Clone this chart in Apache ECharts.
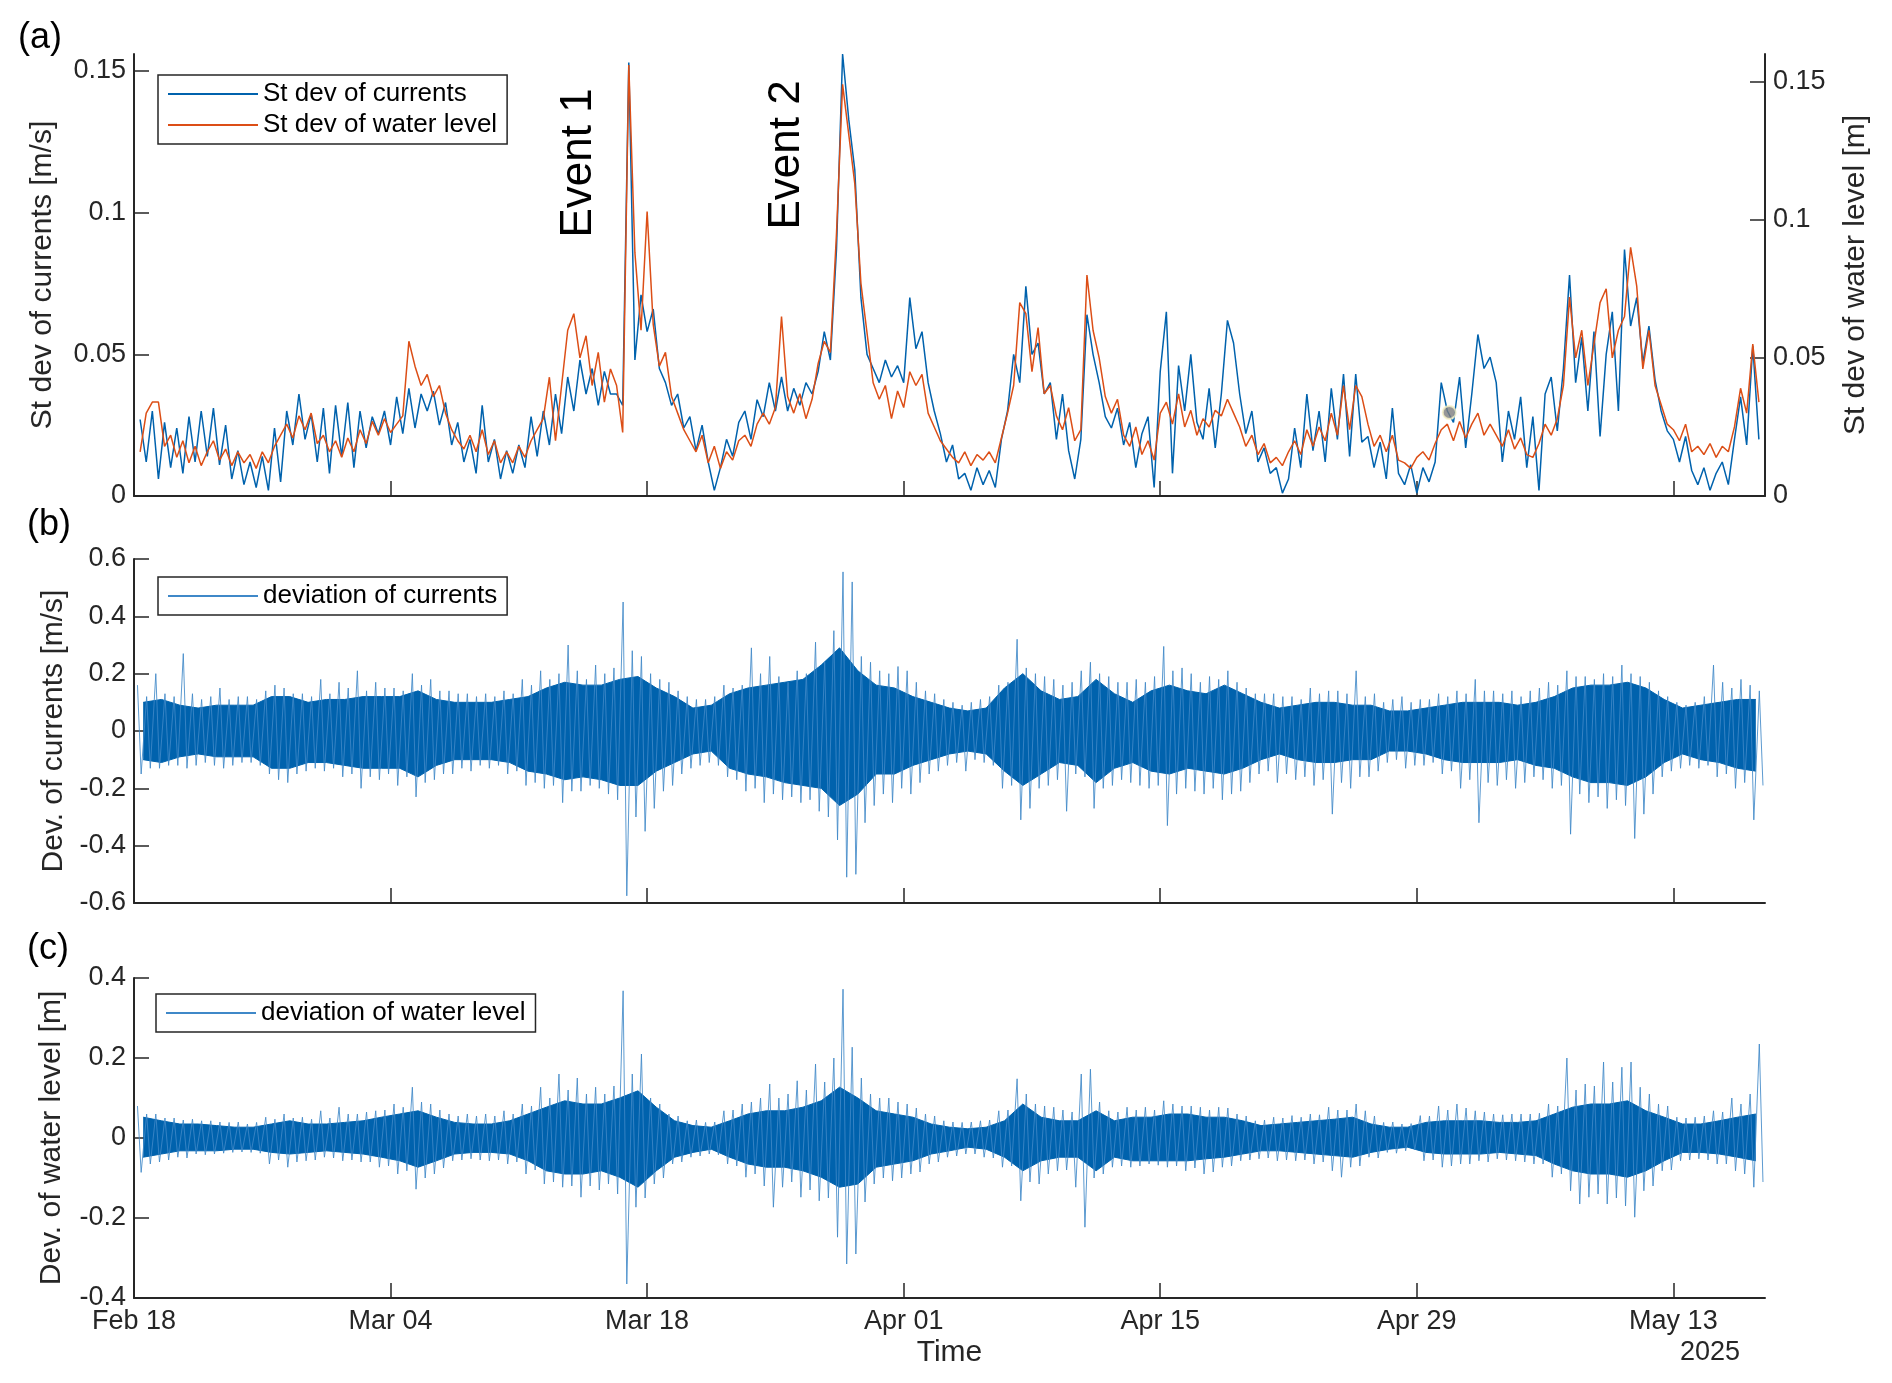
<!DOCTYPE html>
<html>
<head>
<meta charset="utf-8">
<title>Currents and water level deviations</title>
<script src="https://cdn.jsdelivr.net/npm/echarts@6/dist/echarts.min.js"></script>
<style>
  html, body { margin: 0; padding: 0; background: #fff; }
  #chart { width: 1892px; height: 1383px; }
</style>
</head>
<body>
<div id="chart"></div>
<script>
// x values are days after Feb 18 2025 00:00
var startDate = Date.UTC(2025, 1, 18);
var dateTicks = [0, 14, 28, 42, 56, 70, 84];

// (a) st dev, one value every 8 hours from Feb 18 08:00
var stdStep = 1 / 3;
var stdCurrents = [
  0.027,0.012,0.030, 0.006,0.026,0.010, 0.024,0.008,0.028,
  0.012,0.030,0.014, 0.031,0.011,0.025, 0.006,0.016,0.004,
  0.012,0.003,0.014, 0.002,0.024,0.005, 0.030,0.018,0.036,
  0.020,0.029,0.012, 0.031,0.008,0.032, 0.014,0.033,0.010,
  0.030,0.017,0.028, 0.022,0.030,0.018, 0.035,0.022,0.038,
  0.024,0.036,0.030, 0.037,0.025,0.033, 0.018,0.026,0.012,
  0.020,0.008,0.032, 0.012,0.020,0.006, 0.016,0.008,0.018,
  0.010,0.028,0.014, 0.030,0.018,0.036, 0.022,0.042,0.030,
  0.048,0.036,0.045, 0.032,0.044,0.036, 0.036,0.032,0.153,
  0.048,0.071,0.058, 0.066,0.045,0.040, 0.032,0.036,0.024,
  0.028,0.016,0.025, 0.012,0.002,0.010, 0.020,0.014,0.026,
  0.030,0.020,0.034, 0.028,0.040,0.030, 0.042,0.030,0.038,
  0.032,0.040,0.036, 0.044,0.058,0.048, 0.087,0.156,0.133,
  0.115,0.070,0.050, 0.045,0.040,0.048, 0.042,0.046,0.040,
  0.070,0.052,0.058, 0.040,0.030,0.022, 0.012,0.018,0.006,
  0.008,0.002,0.010, 0.004,0.009,0.003, 0.020,0.030,0.050,
  0.040,0.074,0.050, 0.054,0.036,0.040, 0.020,0.036,0.016,
  0.006,0.020,0.064, 0.050,0.040,0.028, 0.024,0.031,0.018,
  0.026,0.010,0.022, 0.028,0.003,0.044, 0.065,0.008,0.046,
  0.030,0.050,0.026, 0.020,0.038,0.017, 0.036,0.062,0.054,
  0.036,0.022,0.030, 0.012,0.017,0.008, 0.010,0.001,0.006,
  0.024,0.010,0.036, 0.016,0.030,0.012, 0.038,0.020,0.043,
  0.014,0.043,0.019, 0.021,0.010,0.019, 0.006,0.031,0.008,
  0.004,0.011,0.001, 0.010,0.005,0.012, 0.040,0.030,0.026,
  0.042,0.017,0.036, 0.057,0.045,0.049, 0.040,0.012,0.030,
  0.020,0.035,0.010, 0.028,0.002,0.036, 0.042,0.023,0.045,
  0.078,0.040,0.056, 0.030,0.058,0.021, 0.050,0.065,0.030,
  0.087,0.060,0.070, 0.047,0.060,0.041, 0.030,0.023,0.020,
  0.012,0.021,0.009, 0.004,0.010,0.002, 0.008,0.012,0.004,
  0.020,0.035,0.018, 0.053,0.020
];
var stdWater = [
  0.016,0.030,0.034, 0.034,0.018,0.022, 0.014,0.020,0.012,
  0.018,0.011,0.016, 0.020,0.013,0.017, 0.011,0.016,0.012,
  0.015,0.010,0.016, 0.012,0.018,0.022, 0.026,0.021,0.029,
  0.024,0.030,0.019, 0.022,0.016,0.020, 0.014,0.021,0.016,
  0.024,0.019,0.027, 0.022,0.028,0.023, 0.026,0.029,0.056,
  0.047,0.040,0.044, 0.036,0.040,0.030, 0.024,0.020,0.017,
  0.022,0.016,0.024, 0.015,0.020,0.012, 0.016,0.012,0.018,
  0.014,0.020,0.024, 0.028,0.043,0.020, 0.040,0.060,0.066,
  0.050,0.058,0.040, 0.052,0.034,0.046, 0.040,0.023,0.156,
  0.088,0.060,0.103, 0.062,0.047,0.052, 0.036,0.030,0.024,
  0.020,0.016,0.022, 0.012,0.018,0.010, 0.016,0.013,0.020,
  0.022,0.018,0.026, 0.030,0.026,0.032, 0.065,0.036,0.030,
  0.037,0.028,0.035, 0.048,0.056,0.052, 0.095,0.149,0.131,
  0.113,0.077,0.059, 0.041,0.035,0.040, 0.028,0.038,0.032,
  0.045,0.040,0.044, 0.030,0.025,0.020, 0.017,0.014,0.012,
  0.016,0.011,0.015, 0.013,0.016,0.012, 0.021,0.030,0.040,
  0.070,0.066,0.045, 0.061,0.037,0.040, 0.029,0.024,0.032,
  0.020,0.024,0.080, 0.060,0.050,0.036, 0.030,0.035,0.022,
  0.018,0.025,0.015, 0.020,0.013,0.030, 0.034,0.026,0.037,
  0.025,0.031,0.022, 0.028,0.025,0.031, 0.029,0.035,0.030,
  0.025,0.018,0.022, 0.015,0.019,0.012, 0.014,0.011,0.016,
  0.020,0.015,0.024, 0.018,0.025,0.020, 0.030,0.022,0.040,
  0.024,0.040,0.036, 0.026,0.018,0.022, 0.016,0.022,0.013,
  0.012,0.010,0.014, 0.016,0.013,0.019, 0.024,0.026,0.020,
  0.027,0.021,0.026, 0.030,0.022,0.026, 0.022,0.018,0.024,
  0.017,0.021,0.015, 0.014,0.019,0.026, 0.022,0.028,0.040,
  0.072,0.050,0.060, 0.040,0.055,0.070, 0.075,0.050,0.060,
  0.065,0.090,0.076, 0.046,0.060,0.040, 0.033,0.026,0.024,
  0.020,0.026,0.016, 0.018,0.015,0.019, 0.014,0.018,0.016,
  0.025,0.039,0.030, 0.055,0.034
];
var greyDot = [71.77, 0.0295];

// (b) deviation of currents: dense core band per day, outer spikes per half day
var curCoreHi = [
  0.10,0.11,0.09,0.08,0.09,0.09,0.09,0.12,0.12,0.10,
  0.11,0.11,0.12,0.12,0.12,0.14,0.11,0.10,0.10,0.10,
  0.11,0.12,0.15,0.17,0.16,0.16,0.18,0.19,0.15,0.12,
  0.08,0.09,0.13,0.15,0.16,0.17,0.18,0.23,0.29,0.21,
  0.16,0.15,0.12,0.10,0.08,0.07,0.08,0.15,0.20,0.14,
  0.11,0.12,0.18,0.13,0.10,0.14,0.16,0.14,0.13,0.16,
  0.13,0.10,0.08,0.09,0.10,0.10,0.09,0.09,0.07,0.07,
  0.08,0.09,0.10,0.10,0.10,0.09,0.10,0.12,0.15,0.16,
  0.16,0.17,0.15,0.11,0.08,0.09,0.10,0.11,0.11
];
var curCoreLo = [
  -0.10,-0.11,-0.09,-0.08,-0.09,-0.09,-0.09,-0.13,-0.13,-0.11,
  -0.11,-0.12,-0.13,-0.13,-0.13,-0.16,-0.12,-0.10,-0.10,-0.10,
  -0.11,-0.14,-0.15,-0.17,-0.16,-0.17,-0.19,-0.19,-0.14,-0.11,
  -0.08,-0.07,-0.13,-0.15,-0.16,-0.18,-0.19,-0.20,-0.26,-0.22,
  -0.15,-0.15,-0.12,-0.10,-0.08,-0.07,-0.08,-0.14,-0.19,-0.15,
  -0.11,-0.12,-0.18,-0.13,-0.11,-0.14,-0.15,-0.13,-0.14,-0.15,
  -0.13,-0.10,-0.08,-0.10,-0.11,-0.11,-0.10,-0.10,-0.07,-0.07,
  -0.08,-0.10,-0.11,-0.11,-0.11,-0.10,-0.12,-0.13,-0.16,-0.18,
  -0.18,-0.19,-0.16,-0.11,-0.08,-0.10,-0.11,-0.13,-0.14
];
var curPeakHi = [
  0.16,0.12, 0.20,0.13, 0.12,0.27, 0.13,0.11, 0.12,0.15,
  0.11,0.12, 0.12,0.11, 0.14,0.16, 0.15,0.13, 0.13,0.12,
  0.18,0.13, 0.17,0.15, 0.21,0.14, 0.17,0.15, 0.15,0.14,
  0.20,0.16, 0.18,0.14, 0.14,0.13, 0.13,0.12, 0.13,0.12,
  0.14,0.13, 0.18,0.16, 0.21,0.18, 0.20,0.30, 0.21,0.18,
  0.23,0.20, 0.22,0.45, 0.28,0.26, 0.20,0.18, 0.17,0.14,
  0.12,0.11, 0.11,0.12, 0.16,0.15, 0.16,0.29, 0.20,0.26,
  0.19,0.17, 0.21,0.20, 0.31,0.24, 0.35,0.555, 0.52,0.26,
  0.24,0.21, 0.20,0.225, 0.21,0.17, 0.14,0.13, 0.11,0.10,
  0.09,0.10, 0.11,0.12, 0.16,0.17, 0.32,0.22, 0.20,0.19,
  0.18,0.16, 0.17,0.21, 0.24,0.20, 0.19,0.17, 0.17,0.18,
  0.17,0.19, 0.295,0.21, 0.22,0.20, 0.17,0.19, 0.18,0.21,
  0.17,0.15, 0.13,0.13, 0.13,0.12, 0.12,0.11, 0.15,0.13,
  0.14,0.14, 0.13,0.21, 0.12,0.13, 0.10,0.11, 0.12,0.10,
  0.11,0.11, 0.13,0.12, 0.14,0.13, 0.18,0.14, 0.14,0.13,
  0.14,0.12, 0.14,0.15, 0.17,0.16, 0.21,0.19, 0.19,0.18,
  0.20,0.19, 0.23,0.20, 0.19,0.17, 0.14,0.12, 0.10,0.09,
  0.10,0.12, 0.23,0.17, 0.15,0.18, 0.16,0.14
];
var curPeakLo = [
  -0.15,-0.13, -0.13,-0.12, -0.12,-0.13, -0.12,-0.11, -0.12,-0.13,
  -0.12,-0.11, -0.11,-0.12, -0.15,-0.17, -0.18,-0.15, -0.14,-0.13,
  -0.14,-0.13, -0.16,-0.15, -0.20,-0.16, -0.17,-0.15, -0.19,-0.16,
  -0.23,-0.18, -0.17,-0.15, -0.15,-0.13, -0.14,-0.12, -0.13,-0.12,
  -0.15,-0.14, -0.19,-0.18, -0.20,-0.19, -0.25,-0.21, -0.21,-0.19,
  -0.20,-0.22, -0.24,-0.575, -0.30,-0.35, -0.27,-0.21, -0.19,-0.15,
  -0.13,-0.12, -0.11,-0.12, -0.16,-0.17, -0.21,-0.20, -0.25,-0.22,
  -0.24,-0.23, -0.25,-0.24, -0.28,-0.30, -0.38,-0.51, -0.50,-0.32,
  -0.26,-0.22, -0.25,-0.20, -0.22,-0.18, -0.15,-0.14, -0.12,-0.11,
  -0.14,-0.10, -0.11,-0.12, -0.20,-0.19, -0.31,-0.27, -0.20,-0.19,
  -0.17,-0.28, -0.15,-0.16, -0.27,-0.20, -0.19,-0.17, -0.18,-0.19,
  -0.20,-0.19, -0.33,-0.22, -0.20,-0.21, -0.22,-0.20, -0.24,-0.22,
  -0.21,-0.18, -0.15,-0.14, -0.18,-0.15, -0.17,-0.16, -0.19,-0.17,
  -0.29,-0.18, -0.20,-0.16, -0.16,-0.14, -0.11,-0.10, -0.13,-0.12,
  -0.12,-0.11, -0.15,-0.14, -0.20,-0.17, -0.32,-0.18, -0.19,-0.17,
  -0.20,-0.18, -0.16,-0.17, -0.20,-0.19, -0.36,-0.22, -0.25,-0.23,
  -0.27,-0.24, -0.26,-0.375, -0.29,-0.22, -0.16,-0.14, -0.13,-0.12,
  -0.13,-0.12, -0.16,-0.15, -0.20,-0.18, -0.31,-0.19
];

// (c) deviation of water level
var wlCoreHi = [
  0.052,0.043,0.035,0.035,0.031,0.027,0.027,0.035,0.043,0.035,
  0.035,0.039,0.043,0.052,0.060,0.068,0.052,0.039,0.035,0.035,
  0.043,0.060,0.077,0.093,0.085,0.085,0.100,0.118,0.077,0.043,
  0.031,0.027,0.043,0.060,0.068,0.068,0.077,0.093,0.127,0.100,
  0.068,0.060,0.052,0.035,0.027,0.023,0.027,0.043,0.085,0.052,
  0.043,0.043,0.068,0.043,0.052,0.052,0.060,0.060,0.052,0.052,
  0.043,0.031,0.035,0.039,0.043,0.047,0.052,0.035,0.027,0.027,
  0.039,0.043,0.043,0.043,0.039,0.039,0.043,0.060,0.077,0.085,
  0.085,0.093,0.068,0.052,0.035,0.035,0.043,0.052,0.060
];
var wlCoreLo = [
  -0.048,-0.040,-0.032,-0.032,-0.032,-0.028,-0.028,-0.036,-0.040,-0.036,
  -0.032,-0.036,-0.040,-0.048,-0.057,-0.073,-0.057,-0.040,-0.036,-0.036,
  -0.040,-0.057,-0.082,-0.090,-0.090,-0.082,-0.098,-0.123,-0.082,-0.048,
  -0.036,-0.028,-0.048,-0.065,-0.073,-0.073,-0.082,-0.098,-0.123,-0.115,
  -0.073,-0.065,-0.057,-0.040,-0.032,-0.023,-0.028,-0.048,-0.082,-0.057,
  -0.048,-0.048,-0.082,-0.048,-0.057,-0.057,-0.057,-0.057,-0.052,-0.048,
  -0.040,-0.032,-0.032,-0.036,-0.040,-0.044,-0.048,-0.036,-0.028,-0.023,
  -0.036,-0.040,-0.040,-0.040,-0.036,-0.040,-0.044,-0.065,-0.082,-0.090,
  -0.090,-0.098,-0.082,-0.057,-0.036,-0.036,-0.040,-0.048,-0.057
];
var wlPeakHi = [
  0.080,0.060, 0.060,0.050, 0.050,0.045, 0.047,0.043, 0.043,0.040,
  0.039,0.040, 0.035,0.039, 0.052,0.047, 0.060,0.050, 0.052,0.047,
  0.068,0.050, 0.077,0.060, 0.060,0.065, 0.068,0.070, 0.085,0.077,
  0.127,0.090, 0.085,0.070, 0.060,0.055, 0.060,0.055, 0.060,0.055,
  0.068,0.060, 0.085,0.080, 0.127,0.100, 0.160,0.120, 0.150,0.110,
  0.127,0.110, 0.130,0.368, 0.160,0.210, 0.100,0.085, 0.060,0.055,
  0.043,0.045, 0.039,0.040, 0.068,0.070, 0.085,0.090, 0.100,0.135,
  0.100,0.110, 0.143,0.120, 0.185,0.140, 0.200,0.372, 0.227,0.150,
  0.110,0.100, 0.100,0.090, 0.085,0.075, 0.060,0.055, 0.043,0.040,
  0.039,0.040, 0.043,0.045, 0.068,0.070, 0.148,0.110, 0.085,0.080,
  0.077,0.070, 0.065,0.160, 0.172,0.090, 0.068,0.065, 0.077,0.070,
  0.077,0.070, 0.093,0.085, 0.080,0.080, 0.077,0.070, 0.077,0.075,
  0.060,0.055, 0.043,0.045, 0.052,0.050, 0.056,0.052, 0.060,0.058,
  0.077,0.070, 0.070,0.085, 0.068,0.055, 0.039,0.040, 0.035,0.036,
  0.056,0.055, 0.080,0.070, 0.085,0.075, 0.068,0.065, 0.060,0.058,
  0.060,0.060, 0.060,0.062, 0.085,0.080, 0.200,0.120, 0.135,0.130,
  0.190,0.140, 0.177,0.190, 0.127,0.110, 0.085,0.080, 0.052,0.050,
  0.052,0.055, 0.068,0.065, 0.100,0.085, 0.110,0.235
];
var wlPeakLo = [
  -0.086,-0.065, -0.060,-0.055, -0.048,-0.050, -0.040,-0.042, -0.040,-0.038,
  -0.036,-0.035, -0.036,-0.038, -0.065,-0.055, -0.073,-0.060, -0.057,-0.055,
  -0.048,-0.050, -0.057,-0.055, -0.060,-0.060, -0.073,-0.070, -0.090,-0.082,
  -0.128,-0.100, -0.090,-0.075, -0.057,-0.055, -0.052,-0.055, -0.057,-0.055,
  -0.065,-0.060, -0.090,-0.080, -0.115,-0.110, -0.123,-0.120, -0.148,-0.120,
  -0.130,-0.115, -0.140,-0.365, -0.173,-0.150, -0.115,-0.100, -0.065,-0.060,
  -0.048,-0.045, -0.040,-0.042, -0.065,-0.070, -0.098,-0.090, -0.120,-0.173,
  -0.123,-0.110, -0.148,-0.130, -0.157,-0.150, -0.248,-0.315, -0.290,-0.160,
  -0.115,-0.100, -0.107,-0.100, -0.090,-0.085, -0.065,-0.060, -0.048,-0.045,
  -0.040,-0.040, -0.048,-0.050, -0.073,-0.070, -0.157,-0.110, -0.115,-0.090,
  -0.082,-0.080, -0.123,-0.223, -0.100,-0.090, -0.073,-0.070, -0.073,-0.070,
  -0.065,-0.068, -0.073,-0.070, -0.082,-0.075, -0.090,-0.085, -0.073,-0.070,
  -0.057,-0.055, -0.052,-0.050, -0.057,-0.055, -0.057,-0.055, -0.065,-0.060,
  -0.082,-0.098, -0.073,-0.070, -0.048,-0.050, -0.036,-0.038, -0.032,-0.030,
  -0.057,-0.055, -0.073,-0.070, -0.065,-0.065, -0.057,-0.060, -0.052,-0.055,
  -0.057,-0.060, -0.065,-0.065, -0.098,-0.090, -0.132,-0.165, -0.148,-0.140,
  -0.165,-0.150, -0.170,-0.198, -0.132,-0.120, -0.082,-0.080, -0.057,-0.055,
  -0.052,-0.055, -0.065,-0.065, -0.082,-0.090, -0.123,-0.110
];

var BLUE = '#0062ad', ORANGE = '#dc4e16', LIGHT = '#3f88c8', AX = '#262626';
var FONT = 'Liberation Sans, Arial, sans-serif';
var LINE_ICON = 'path://M0,0H100V10H0Z';

function stdSeries(vals) {
  return vals.map(function (v, i) { return [(i + 1) * stdStep, v]; });
}
function daySeries(vals) {
  return vals.map(function (v, i) { return [i + 0.5, v]; });
}
// up/down swing for each half day sample
function swing(hi, lo) {
  var out = [];
  for (var i = 0; i < hi.length; i++) {
    var t = i / 2 + 0.25;
    out.push([t - 0.06, hi[i]]);
    out.push([t + 0.14, lo[i]]);
  }
  return out;
}
function dateLabel(v) {
  var d = new Date(startDate + v * 86400000);
  var m = ['Jan','Feb','Mar','Apr','May','Jun','Jul','Aug','Sep','Oct','Nov','Dec'][d.getUTCMonth()];
  var day = d.getUTCDate();
  return m + ' ' + (day < 10 ? '0' + day : day);
}

var grids = [
  {left: 134, top: 54, width: 1631, height: 442},
  {left: 134, top: 559, width: 1631, height: 344},
  {left: 134, top: 978, width: 1631, height: 320}
];

function xAx(idx, showLabels) {
  return {
    type: 'value', gridIndex: idx, min: 0, max: 89, interval: 14,
    axisLine: {show: true, onZero: false, lineStyle: {color: AX, width: 2}},
    axisTick: {show: true, inside: true, length: 15, customValues: dateTicks, lineStyle: {color: AX, width: 1.5}},
    axisLabel: {show: showLabels, customValues: dateTicks, formatter: dateLabel, fontSize: 27, fontFamily: FONT, color: AX, margin: 10},
    splitLine: {show: false},
    name: showLabels ? 'Time' : '', nameLocation: 'middle', nameGap: 40,
    nameTextStyle: {fontSize: 30, fontFamily: FONT, color: AX}
  };
}
function yAx(idx, o) {
  return {
    type: 'value', gridIndex: idx, min: o.min, max: o.max,
    position: o.pos || 'left',
    axisLine: {show: true, onZero: false, lineStyle: {color: AX, width: 2}},
    axisTick: {show: true, inside: true, length: 15, customValues: o.ticks, lineStyle: {color: AX, width: 1.5}},
    axisLabel: {customValues: o.ticks, fontSize: 27, fontFamily: FONT, color: AX, margin: 8},
    splitLine: {show: false},
    name: o.name, nameLocation: 'middle', nameGap: o.gap, nameRotate: 90,
    nameTextStyle: {fontSize: 30, fontFamily: FONT, color: AX}
  };
}

var legendBase = {
  orient: 'vertical', selectedMode: false, icon: LINE_ICON, symbolKeepAspect: false,
  borderColor: AX, borderWidth: 1.5, backgroundColor: '#fff',
  padding: [6, 10, 6, 10], itemWidth: 90, itemHeight: 2, itemGap: 5,
  textStyle: {fontSize: 26, fontFamily: FONT, color: '#000'}
};

var chart = echarts.init(document.getElementById('chart'), null, {renderer: 'canvas'});

var option = {
  animation: false,
  backgroundColor: '#fff',
  grid: grids,
  xAxis: [xAx(0, false), xAx(1, false), xAx(2, true)],
  yAxis: [
    yAx(0, {min: 0, max: 0.156, ticks: [0, 0.05, 0.1, 0.15], name: 'St dev of currents [m/s]', gap: 76}),
    yAx(0, {min: 0, max: 0.16, ticks: [0, 0.05, 0.1, 0.15], pos: 'right', name: 'St dev of water level [m]', gap: 76}),
    yAx(1, {min: -0.6, max: 0.6, ticks: [-0.6, -0.4, -0.2, 0, 0.2, 0.4, 0.6], name: 'Dev. of currents [m/s]', gap: 65}),
    yAx(2, {min: -0.4, max: 0.4, ticks: [-0.4, -0.2, 0, 0.2, 0.4], name: 'Dev. of water level [m]', gap: 67})
  ],
  legend: [
    Object.assign({}, legendBase, {left: 158, top: 75, data: ['St dev of currents', 'St dev of water level']}),
    Object.assign({}, legendBase, {left: 158, top: 577, data: ['deviation of currents']}),
    Object.assign({}, legendBase, {left: 156, top: 994, data: ['deviation of water level']})
  ],
  series: [
    {name: 'St dev of currents', type: 'line', xAxisIndex: 0, yAxisIndex: 0, symbol: 'none',
     data: stdSeries(stdCurrents), lineStyle: {color: BLUE, width: 1.5}, itemStyle: {color: BLUE}},
    {name: 'St dev of water level', type: 'line', xAxisIndex: 0, yAxisIndex: 1, symbol: 'none',
     data: stdSeries(stdWater), lineStyle: {color: ORANGE, width: 1.5}, itemStyle: {color: ORANGE}},
    {name: 'marker', type: 'scatter', xAxisIndex: 0, yAxisIndex: 0, data: [greyDot], symbolSize: 13,
     itemStyle: {color: '#7d7d7d', borderColor: '#f6f1c6', borderWidth: 2}, z: 5},

    {name: 'cur core hi', type: 'line', xAxisIndex: 1, yAxisIndex: 2, symbol: 'none', z: 2,
     data: daySeries(curCoreHi), lineStyle: {color: BLUE, width: 1}, areaStyle: {color: BLUE, opacity: 1, origin: 0}},
    {name: 'cur core lo', type: 'line', xAxisIndex: 1, yAxisIndex: 2, symbol: 'none', z: 2,
     data: daySeries(curCoreLo), lineStyle: {color: BLUE, width: 1}, areaStyle: {color: BLUE, opacity: 1, origin: 0}},
    {name: 'deviation of currents', type: 'line', xAxisIndex: 1, yAxisIndex: 2, symbol: 'none', z: 4,
     data: swing(curPeakHi, curPeakLo), lineStyle: {color: LIGHT, width: 1, opacity: 0.85}, itemStyle: {color: LIGHT}},

    {name: 'wl core hi', type: 'line', xAxisIndex: 2, yAxisIndex: 3, symbol: 'none', z: 2,
     data: daySeries(wlCoreHi), lineStyle: {color: BLUE, width: 1}, areaStyle: {color: BLUE, opacity: 1, origin: 0}},
    {name: 'wl core lo', type: 'line', xAxisIndex: 2, yAxisIndex: 3, symbol: 'none', z: 2,
     data: daySeries(wlCoreLo), lineStyle: {color: BLUE, width: 1}, areaStyle: {color: BLUE, opacity: 1, origin: 0}},
    {name: 'deviation of water level', type: 'line', xAxisIndex: 2, yAxisIndex: 3, symbol: 'none', z: 4,
     data: swing(wlPeakHi, wlPeakLo), lineStyle: {color: LIGHT, width: 1, opacity: 0.85}, itemStyle: {color: LIGHT}}
  ],
  graphic: [
    {type: 'text', left: 18, top: 20, style: {text: '(a)', fontSize: 36, fontFamily: FONT, fill: '#000'}},
    {type: 'text', left: 27, top: 507, style: {text: '(b)', fontSize: 36, fontFamily: FONT, fill: '#000'}},
    {type: 'text', left: 27, top: 931, style: {text: '(c)', fontSize: 36, fontFamily: FONT, fill: '#000'}},
    {type: 'text', x: 579, y: 163, rotation: Math.PI / 2,
     style: {text: 'Event 1', fontSize: 44, fontFamily: FONT, fill: '#000', align: 'center', verticalAlign: 'middle'}},
    {type: 'text', x: 787, y: 155, rotation: Math.PI / 2,
     style: {text: 'Event 2', fontSize: 44, fontFamily: FONT, fill: '#000', align: 'center', verticalAlign: 'middle'}},
    {type: 'text', x: 1710, y: 1353,
     style: {text: '2025', fontSize: 27, fontFamily: FONT, fill: AX, align: 'center', verticalAlign: 'middle'}}
  ]
};
chart.setOption(option);
</script>
</body>
</html>
